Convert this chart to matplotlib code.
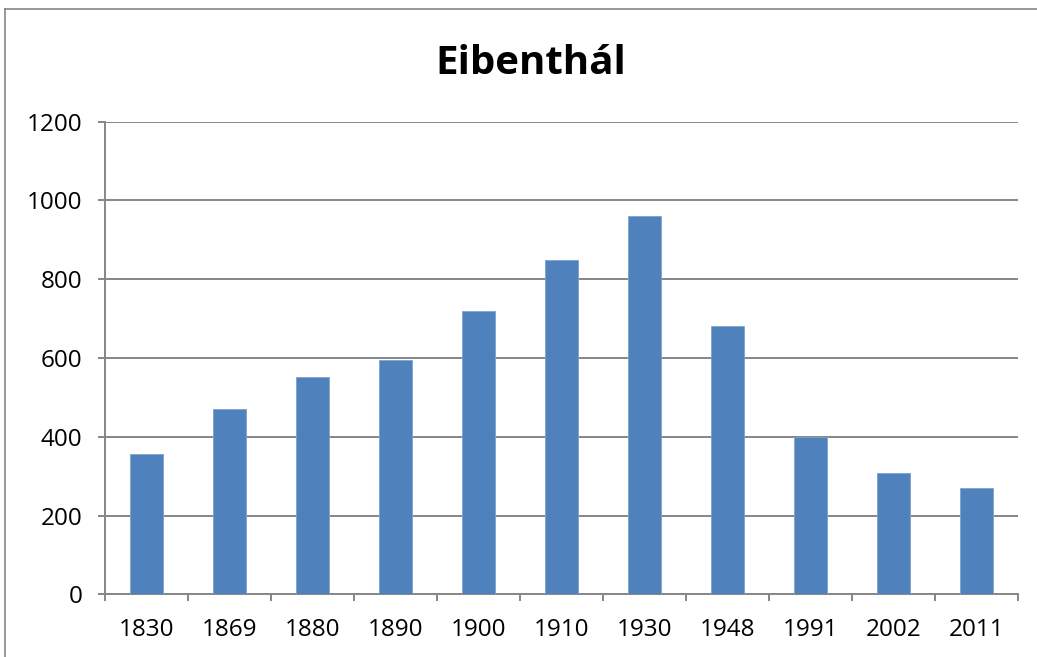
import matplotlib
matplotlib.use("Agg")
import matplotlib.pyplot as plt
from matplotlib.lines import Line2D

years = ["1830", "1869", "1880", "1890", "1900", "1910", "1930", "1948", "1991", "2002", "2011"]
population = [355, 470, 552, 596, 720, 848, 960, 681, 400, 307, 271]
yticks = [0, 200, 400, 600, 800, 1000, 1200]
title = "Eibenthál"

plt.rcParams['font.family'] = ['Open Sans', 'DejaVu Sans']

fig = plt.figure(figsize=(10.37, 6.57), dpi=100)
ax = fig.add_axes([0.101, 0.0954, 0.8807, 0.7194])

x = list(range(len(years)))
ax.bar(x, population, width=0.4, color="#4F81BD", edgecolor="#7EA3D0", linewidth=0.6, zorder=3)

ax.set_xlim(-0.5, len(years) - 0.5)
ax.set_ylim(0, 1200)
ax.set_yticks(yticks)
ax.set_yticklabels([str(v) for v in yticks], fontsize=17.5)
ax.set_xticks(x)
ax.set_xticklabels(years, fontsize=17.5)
ax.set_xticks([i - 0.5 for i in range(len(years) + 1)], minor=True)

grid_c = "#868686"
ax.yaxis.grid(True, color=grid_c, linewidth=1.4, zorder=0)
ax.set_axisbelow(True)
for s in ["top", "right"]:
    ax.spines[s].set_visible(False)
for s in ["left", "bottom"]:
    ax.spines[s].set_color(grid_c)
    ax.spines[s].set_linewidth(1.4)

ax.tick_params(axis="y", direction="out", length=5, width=1.4, color=grid_c, pad=11)
ax.tick_params(axis="x", which="major", length=0, pad=17)
ax.tick_params(axis="x", which="minor", direction="out", length=5, width=1.4, color=grid_c)

fig.text(0.512, 0.903, title, ha="center", va="center", fontsize=29, fontweight="bold")

# chart border (top & left visible)
fig.add_artist(Line2D([0.0045, 0.0045], [0.0, 0.986], transform=fig.transFigure, color="#868686", linewidth=1.2))
fig.add_artist(Line2D([0.0045, 1.0], [0.986, 0.986], transform=fig.transFigure, color="#868686", linewidth=1.2))

fig.savefig("out.png", dpi=100)
